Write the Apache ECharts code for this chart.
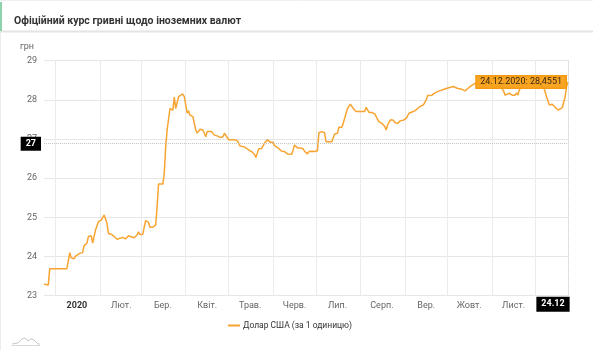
<!DOCTYPE html>
<html>
<head>
<meta charset="utf-8">
<script src="https://cdn.jsdelivr.net/npm/echarts@6/dist/echarts.min.js"></script>
<style>
html,body{margin:0;padding:0;background:#fff;}
#chart{width:593px;height:350px;}
</style>
</head>
<body>
<div id="chart"></div>
<script>
// ---- data ----
const titleText = 'Офіційний курс гривні щодо іноземних валют';
const seriesName = 'Долар США (за 1 одиницю)';
const firstDay = '2019-12-24';
const lastDay = '2020-12-24';
const monthLabels = ['2020','Лют.','Бер.','Квіт.','Трав.','Черв.','Лип.','Серп.','Вер.','Жовт.','Лист.',''];
const yTicks = [23, 24, 25, 26, 27, 28, 29];
const pointerValue = 26.88;
const pointerLabel = '27';
const lastLabel = '24.12';
const tooltipText = '24.12.2020: 28,4551';

const rateDates = [
 '2019-12-24','2019-12-27','2019-12-28','2020-01-09','2020-01-11','2020-01-12','2020-01-14','2020-01-15','2020-01-16','2020-01-18',
 '2020-01-20','2020-01-21','2020-01-22','2020-01-23','2020-01-24','2020-01-26','2020-01-27','2020-01-29','2020-01-31','2020-02-02',
 '2020-02-04','2020-02-06','2020-02-07','2020-02-09','2020-02-11','2020-02-13','2020-02-14','2020-02-17','2020-02-19','2020-02-21',
 '2020-02-22','2020-02-25','2020-02-27','2020-02-28','2020-02-29','2020-03-02','2020-03-04','2020-03-06','2020-03-07','2020-03-09',
 '2020-03-11','2020-03-12','2020-03-13','2020-03-16','2020-03-17','2020-03-18','2020-03-19','2020-03-21','2020-03-22','2020-03-23',
 '2020-03-24','2020-03-25','2020-03-27','2020-03-28','2020-03-30','2020-03-31','2020-04-02','2020-04-03','2020-04-04','2020-04-06',
 '2020-04-08','2020-04-09','2020-04-11','2020-04-13','2020-04-15','2020-04-16','2020-04-19','2020-04-21','2020-04-23','2020-04-25',
 '2020-04-27','2020-04-28','2020-04-30','2020-05-01','2020-05-05','2020-05-07','2020-05-09','2020-05-12','2020-05-15','2020-05-17',
 '2020-05-19','2020-05-20','2020-05-21','2020-05-22','2020-05-24','2020-05-26','2020-05-28','2020-05-30','2020-06-01','2020-06-02',
 '2020-06-05','2020-06-07','2020-06-09','2020-06-11','2020-06-12','2020-06-14','2020-06-15','2020-06-16','2020-06-18','2020-06-20',
 '2020-06-22','2020-06-23','2020-06-25','2020-06-26','2020-06-28','2020-06-30','2020-07-02','2020-07-03','2020-07-05','2020-07-07',
 '2020-07-08','2020-07-12','2020-07-13','2020-07-14','2020-07-16','2020-07-17','2020-07-19','2020-07-20','2020-07-22','2020-07-23',
 '2020-07-25','2020-07-26','2020-07-27','2020-07-29','2020-08-02','2020-08-04','2020-08-05','2020-08-07','2020-08-09','2020-08-11',
 '2020-08-14','2020-08-16','2020-08-18','2020-08-19','2020-08-20','2020-08-22','2020-08-24','2020-08-25','2020-08-26','2020-08-27',
 '2020-08-29','2020-08-31','2020-09-02','2020-09-04','2020-09-06','2020-09-08','2020-09-10','2020-09-12','2020-09-14','2020-09-16',
 '2020-09-17','2020-09-20','2020-09-22','2020-09-23','2020-09-25','2020-09-27','2020-09-30','2020-10-03','2020-10-05','2020-10-06',
 '2020-10-08','2020-10-11','2020-10-13','2020-10-15','2020-10-17','2020-10-20','2020-10-21','2020-10-24','2020-10-29','2020-11-03',
 '2020-11-07','2020-11-09','2020-11-10','2020-11-11','2020-11-13','2020-11-15','2020-11-17','2020-11-18','2020-11-19','2020-11-20',
 '2020-11-22','2020-11-28','2020-12-03','2020-12-07','2020-12-08','2020-12-09','2020-12-11','2020-12-13','2020-12-14','2020-12-17',
 '2020-12-18','2020-12-20','2020-12-21','2020-12-22','2020-12-23','2020-12-24'
];
const rateValues = [
 23.30,23.27,23.69,23.69,24.10,23.97,23.94,24.01,23.97,24.08,
 24.10,24.28,24.25,24.34,24.51,24.53,24.34,24.68,24.89,24.93,
 25.06,24.85,24.59,24.57,24.51,24.44,24.49,24.49,24.45,24.53,
 24.49,24.48,24.55,24.63,24.56,24.57,24.92,24.87,24.75,24.75,
 24.80,25.27,25.85,25.85,26.12,26.80,27.23,27.78,27.78,27.74,
 28.07,27.78,28.08,28.12,28.15,28.08,27.66,27.72,27.61,27.57,
 27.23,27.15,27.25,27.23,27.06,27.19,27.19,27.10,27.08,27.04,
 27.06,27.15,27.04,26.98,26.98,26.96,26.82,26.80,26.72,26.68,
 26.61,26.53,26.64,26.75,26.76,26.89,26.98,26.92,26.92,26.83,
 26.76,26.69,26.68,26.62,26.63,26.61,26.72,26.85,26.77,26.77,
 26.75,26.69,26.62,26.68,26.69,26.68,26.70,27.16,27.19,27.16,
 26.93,26.93,26.98,27.13,27.15,27.30,27.30,27.40,27.66,27.78,
 27.89,27.89,27.78,27.70,27.70,27.70,27.81,27.68,27.68,27.64,
 27.44,27.40,27.32,27.23,27.36,27.49,27.48,27.42,27.45,27.40,
 27.47,27.48,27.53,27.66,27.69,27.72,27.78,27.84,27.87,28.00,
 28.11,28.12,28.18,28.18,28.23,28.25,28.29,28.32,28.34,28.38,
 28.29,28.27,28.23,28.29,28.35,28.42,28.42,28.40,28.40,28.38,
 28.33,28.23,28.12,28.15,28.17,28.12,28.12,28.18,28.12,28.25,
 28.38,28.40,28.38,28.33,28.29,28.08,27.87,27.89,27.84,27.74,
 27.78,27.80,27.83,28.08,28.34,28.4551
];

// ---- build daily categories ----
function pad(n){return (n<10?'0':'')+n;}
const days = [];
(function(){
  const d = new Date(firstDay + 'T00:00:00Z');
  const end = new Date(lastDay + 'T00:00:00Z');
  while (d <= end) {
    days.push(d.getUTCFullYear() + '-' + pad(d.getUTCMonth()+1) + '-' + pad(d.getUTCDate()));
    d.setUTCDate(d.getUTCDate()+1);
  }
})();

const FONT = 'Roboto, "Noto Sans", sans-serif';
const LINE_COLOR = '#f8a431';
const FS = 9;

const chart = echarts.init(document.getElementById('chart'), null, {renderer:'canvas'});
chart.setOption({
  animation: false,
  backgroundColor: '#fff',
  textStyle: {fontFamily: FONT},
  graphic: [
    {type:'rect', shape:{x:0,y:0,width:593,height:31}, style:{fill:'#fff'}, z:-10, silent:true},
    {type:'line', shape:{x1:0,y1:31.5,x2:593,y2:31.5}, style:{stroke:'#e4e4e4', lineWidth:2}, z:-9, silent:true},
    {type:'line', shape:{x1:0,y1:0.5,x2:593,y2:0.5}, style:{stroke:'#f0f0f0', lineWidth:1}, z:-9, silent:true},
    {type:'rect', shape:{x:0,y:2,width:2,height:29}, style:{fill:'#8fd3ad'}, z:-8, silent:true},
    {type:'line', shape:{x1:0.5,y1:32,x2:0.5,y2:350}, style:{stroke:'#ececec', lineWidth:1}, z:-9, silent:true},
    {type:'polyline', shape:{points:[[12,344],[18,343],[22,339],[25,338],[28,341],[31,339],[34,340],[38,344],[40,344]]}, style:{stroke:'#c8c8c8', fill:null, lineWidth:1}, silent:true},
    {type:'line', shape:{x1:12,y1:345.5,x2:40,y2:345.5}, style:{stroke:'#d8d8d8', lineWidth:1}, silent:true}
  ],
  title: {
    text: titleText,
    left: 9, top: 11,
    textStyle: {fontSize: 10.5, fontWeight: 'bold', color: '#333', fontFamily: FONT}
  },
  legend: {
    left: 228, top: 321, padding: 0,
    icon: 'rect', itemWidth: 12, itemHeight: 2, itemGap: 10,
    textStyle: {fontSize: 8.5, color: '#333', fontFamily: FONT, padding: [0, 0, 0, -2]},
    data: [seriesName]
  },
  grid: {left: 44, right: 25, top: 60.7, bottom: 54.3, containLabel: false},
  xAxis: {
    type: 'category',
    data: days,
    boundaryGap: false,
    axisLine: {show: false},
    axisTick: {show: false},
    splitLine: {
      show: true,
      interval: function(idx, val){ return val.slice(8) === '01'; },
      lineStyle: {color: '#ebebeb', width: 1}
    },
    axisLabel: {
      interval: function(idx, val){ return val.slice(8) === '16' && val.slice(5,7) !== '12'; },
      margin: 6,
      fontSize: FS,
      color: '#666',
      fontFamily: FONT,
      formatter: function(val){
        const m = parseInt(val.slice(5,7),10) - 1;
        if (m === 0) return '{y|' + monthLabels[0] + '}';
        return monthLabels[m];
      },
      rich: {y: {fontWeight: 'bold', color: '#333', fontSize: FS, fontFamily: FONT}}
    }
  },
  yAxis: {
    type: 'value',
    min: yTicks[0], max: yTicks[yTicks.length-1], interval: 1,
    name: 'грн',
    nameLocation: 'end',
    nameGap: 9,
    nameTextStyle: {fontSize: FS, color: '#666', align: 'right', padding: [0, 10, 0, 0], fontFamily: FONT},
    axisLine: {show: false},
    axisTick: {show: false},
    axisLabel: {fontSize: FS, color: '#666', margin: 7, fontFamily: FONT},
    splitLine: {lineStyle: {color: '#e6e6e6', width: 1}}
  },
  series: [{
    name: seriesName,
    type: 'line',
    data: rateDates.map(function(d, i){ return [d, rateValues[i]]; }),
    showSymbol: false,
    symbol: 'none',
    lineStyle: {color: LINE_COLOR, width: 1.5},
    itemStyle: {color: LINE_COLOR},
    z: 3,
    markLine: {
      silent: true,
      symbol: 'none',
      animation: false,
      lineStyle: {type: 'dotted', color: '#c4c4c4', width: 1},
      data: [
        {
          yAxis: pointerValue,
          label: {
            show: true, position: 'start', formatter: pointerLabel, distance: 3,
            backgroundColor: '#000', color: '#fff', fontWeight: 'bold', fontSize: FS,
            padding: [3, 5, 2, 5], fontFamily: FONT
          }
        },
        {
          xAxis: lastDay,
          label: {
            show: true, position: 'start', formatter: lastLabel, distance: 1,
            backgroundColor: '#000', color: '#fff', fontWeight: 'bold', fontSize: FS,
            padding: [3, 5, 3, 5], offset: [-15, 0], fontFamily: FONT
          }
        }
      ]
    },
    markPoint: {
      silent: true,
      symbol: 'circle',
      symbolSize: 0,
      data: [{
        coord: [lastDay, rateValues[rateValues.length-1]],
        label: {
          show: true, position: 'left', distance: 2,
          formatter: tooltipText,
          backgroundColor: 'rgba(248,160,24,0.95)',
          borderColor: '#f39a10', borderWidth: 1,
          color: '#3a2a10', fontSize: FS, padding: [2, 4, 1, 4], fontFamily: FONT
        }
      }]
    }
  }]
});
</script>
</body>
</html>
